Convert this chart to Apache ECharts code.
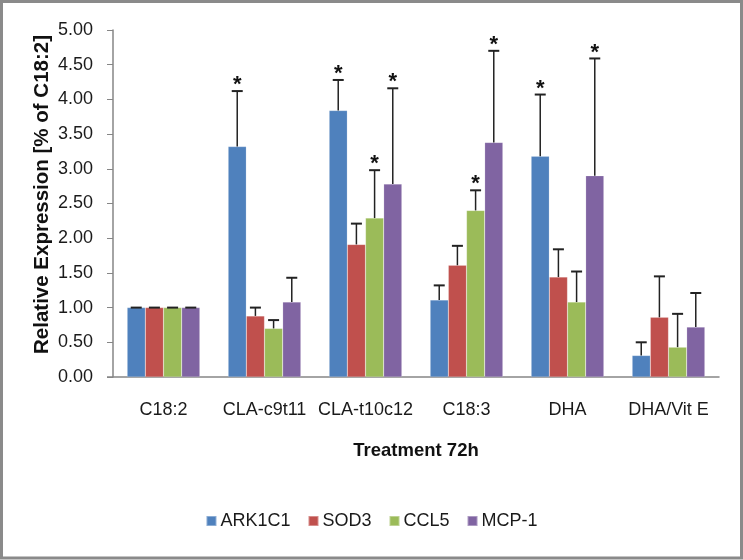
<!DOCTYPE html>
<html>
<head>
<meta charset="utf-8">
<script src="https://cdn.jsdelivr.net/npm/echarts@6/dist/echarts.min.js"></script>
<style>
html,body{margin:0;padding:0;background:#fff;}
#chart{width:743px;height:560px;}
</style>
</head>
<body>
<div id="chart"></div>
<script>
// ---- data ----
var categories = ['C18:2', 'CLA-c9t11', 'CLA-t10c12', 'C18:3', 'DHA', 'DHA/Vit E'];
var seriesNames = ['ARK1C1', 'SOD3', 'CCL5', 'MCP-1'];
var ARK1C1 = [1.00, 3.32, 3.84, 1.11, 3.18, 0.31];
var SOD3   = [1.00, 0.88, 1.91, 1.61, 1.44, 0.86];
var CCL5   = [1.00, 0.70, 2.29, 2.40, 1.08, 0.43];
var MCP1   = [1.00, 1.08, 2.78, 3.38, 2.90, 0.72];
// upper error (SD)
var ARK1C1_err = [0.00, 0.80, 0.44, 0.21, 0.89, 0.19];
var SOD3_err   = [0.00, 0.12, 0.30, 0.28, 0.40, 0.59];
var CCL5_err   = [0.00, 0.12, 0.69, 0.29, 0.44, 0.48];
var MCP1_err   = [0.00, 0.35, 1.38, 1.32, 1.69, 0.49];
// significance marks (*)
var ARK1C1_sig = [0, 1, 1, 0, 1, 0];
var SOD3_sig   = [0, 0, 0, 0, 0, 0];
var CCL5_sig   = [0, 0, 1, 1, 0, 0];
var MCP1_sig   = [0, 0, 1, 1, 1, 0];
var yTicks = ['0.00','0.50','1.00','1.50','2.00','2.50','3.00','3.50','4.00','4.50','5.00'];

var values = [ARK1C1, SOD3, CCL5, MCP1];
var errs = [ARK1C1_err, SOD3_err, CCL5_err, MCP1_err];
var sigs = [ARK1C1_sig, SOD3_sig, CCL5_sig, MCP1_sig];
var colors = ['#4F81BD', '#C0504D', '#9BBB59', '#8064A2'];

var FF = '"Liberation Sans", sans-serif';
var FS = 18;

var CAT_GAP = 0.28;
var nS = seriesNames.length;

var series = [];
seriesNames.forEach(function (name, k) {
  series.push({
    name: name,
    type: 'bar',
    data: values[k],
    barGap: 0,
    barCategoryGap: (CAT_GAP * 100) + '%',
    itemStyle: { color: colors[k], borderColor: 'rgba(255,255,255,0.35)', borderWidth: 0.5 }
  });
});
seriesNames.forEach(function (name, k) {
  var d = categories.map(function (c, i) {
    return [i, values[k][i], values[k][i] + errs[k][i], sigs[k][i]];
  });
  series.push({
    name: name + ' err',
    type: 'custom',
    data: d,
    z: 5,
    silent: true,
    encode: { x: 0, y: [1, 2] },
    renderItem: function (params, api) {
      var i = api.value(0);
      var band = api.size([1, 0])[0];
      var bw = band * (1 - CAT_GAP) / nS;
      var p0 = api.coord([i, api.value(1)]);
      var p1 = api.coord([i, api.value(2)]);
      var x = p0[0] + (k - (nS - 1) / 2) * bw;
      var children = [
        { type: 'line', shape: { x1: x, y1: p0[1], x2: x, y2: p1[1] }, style: { stroke: '#222', lineWidth: 1.5 } },
        { type: 'line', shape: { x1: x - 5.5, y1: p1[1], x2: x + 5.5, y2: p1[1] }, style: { stroke: '#222', lineWidth: 2 } }
      ];
      if (api.value(3) === 1) {
        children.push({ type: 'text', x: x, y: p1[1] + 5, style: { text: '*', fill: '#111', font: 'bold 22px "Liberation Sans", sans-serif', align: 'center', verticalAlign: 'bottom' } });
      }
      return { type: 'group', children: children };
    }
  });
});

var chart = echarts.init(document.getElementById('chart'), null, { renderer: 'canvas' });
chart.setOption({
  animation: false,
  backgroundColor: '#fff',
  textStyle: { fontFamily: FF },
  graphic: [{
    type: 'rect', z: 100, silent: true,
    shape: { x: 1.5, y: 1.5, width: 740, height: 556.5 },
    style: { fill: 'none', stroke: '#8a8a8a', lineWidth: 3 }
  }, {
    type: 'line', z: 1, silent: true,
    shape: { x1: 107, y1: 377, x2: 113, y2: 377 },
    style: { stroke: '#868686', lineWidth: 1.5 }
  }],
  grid: { left: 113, right: 24, top: 30, bottom: 183 },
  legend: {
    data: seriesNames,
    top: 507,
    left: 'center',
    icon: 'rect',
    itemWidth: 10,
    itemHeight: 10,
    itemGap: 17,
    textStyle: { fontFamily: FF, fontSize: FS, color: '#1a1a1a', padding: [0, 0, 0, -1] }
  },
  xAxis: {
    type: 'category',
    data: categories,
    name: 'Treatment 72h',
    nameLocation: 'middle',
    nameGap: 64,
    nameMoveOverlap: false,
    nameTextStyle: { fontFamily: FF, fontSize: 18.5, fontWeight: 'bold', color: '#111' },
    axisLine: { lineStyle: { color: '#868686', width: 1.5 } },
    axisTick: { show: false },
    axisLabel: { fontFamily: FF, fontSize: FS, color: '#1a1a1a', margin: 24, interval: 0 }
  },
  yAxis: {
    type: 'value',
    min: 0, max: 5, interval: 0.5,
    name: 'Relative Expression [% of C18:2]',
    nameLocation: 'middle',
    nameGap: 60,
    nameMoveOverlap: false,
    nameTextStyle: { fontFamily: FF, fontSize: 20.5, fontWeight: 'bold', color: '#111', padding: [0, 0, 0, 18] },
    axisLine: { show: true, lineStyle: { color: '#868686', width: 1.5 } },
    axisTick: { show: true, length: 6, lineStyle: { color: '#868686' } },
    splitLine: { show: false },
    axisLabel: {
      fontFamily: FF, fontSize: FS, color: '#1a1a1a', margin: 20,
      formatter: function (v) { return yTicks[Math.round(v / 0.5)]; }
    }
  },
  series: series
});
</script>
</body>
</html>
